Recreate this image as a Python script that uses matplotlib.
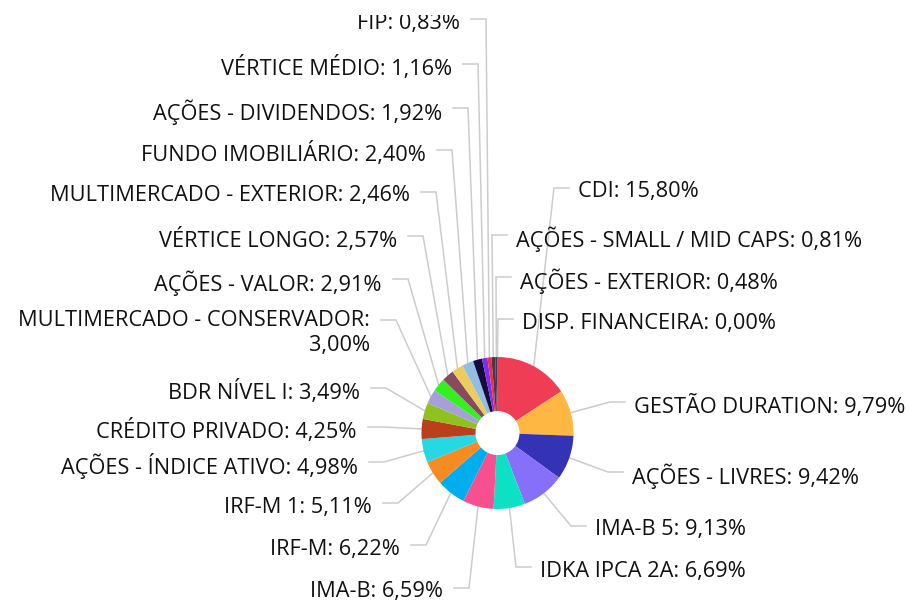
import numpy as np
import matplotlib
matplotlib.use("Agg")
import matplotlib.pyplot as plt
from matplotlib.transforms import Bbox, TransformedBbox

plt.rcParams['font.family'] = ['Open Sans', 'DejaVu Sans']

categories = [
    "CDI", "GESTÃO DURATION", "AÇÕES - LIVRES", "IMA-B 5", "IDKA IPCA 2A",
    "IMA-B", "IRF-M", "IRF-M 1", "AÇÕES - ÍNDICE ATIVO", "CRÉDITO PRIVADO",
    "BDR NÍVEL I", "MULTIMERCADO - CONSERVADOR", "AÇÕES - VALOR", "VÉRTICE LONGO",
    "MULTIMERCADO - EXTERIOR", "FUNDO IMOBILIÁRIO", "AÇÕES - DIVIDENDOS",
    "VÉRTICE MÉDIO", "FIP", "AÇÕES - SMALL / MID CAPS", "AÇÕES - EXTERIOR",
    "DISP. FINANCEIRA",
]
values = [15.80, 9.79, 9.42, 9.13, 6.69, 6.59, 6.22, 5.11, 4.98, 4.25,
          3.49, 3.00, 2.91, 2.57, 2.46, 2.40, 1.92, 1.16, 0.83, 0.81, 0.48, 0.00]
colors = [
    "#EF3D55", "#FEB743", "#3433B5", "#8670F9", "#0EE0C3",
    "#F8508F", "#00ADEF", "#F68A23", "#26D7E4", "#BA401C",
    "#8DC21F", "#A69FD9", "#34F020", "#874B5D", "#EBCD5E",
    "#93BEE3", "#160C3A", "#7C2CF5", "#F03040", "#4A3645",
    "#3A3A5A", "#777777",
]

# label layout in pixel coords: side, text x edge, text center y
label_pos = [
    ("R", 578, 190), ("R", 634, 404), ("R", 632, 474), ("R", 595, 528),
    ("R", 540, 569), ("L", 443, 590), ("L", 400, 547), ("L", 372, 505),
    ("L", 358, 464), ("L", 357, 429), ("L", 360, 390), ("L", 370, 322),
    ("L", 382, 281), ("L", 397, 238), ("L", 410, 194), ("L", 426, 152),
    ("L", 442, 110), ("L", 452, 66), ("L", 460, 21), ("R", 516, 237),
    ("R", 520, 279), ("R", 522, 321),
]

W, H = 909, 600
cx, cy = 497.5, 433
r_out, r_in = 76, 22
FS = 15.7


def Y(y):
    return H - y


def fmt(v):
    return f"{v:.2f}".replace(".", ",") + "%"


fig = plt.figure(figsize=(W / 100, H / 100), dpi=100)
ax = fig.add_axes([0, 0, 1, 1])

ax.pie(values, colors=colors, center=(cx, Y(cy)), radius=r_out,
       startangle=90, counterclock=False,
       wedgeprops=dict(width=r_out - r_in, linewidth=0), frame=True)
ax.set_xlim(0, W)
ax.set_ylim(0, H)
ax.set_aspect("equal")
ax.axis("off")

# the top label is cut by the chart area in the original
clip = TransformedBbox(Bbox([[0, -20], [W, H - 15]]), ax.transData)
line_col = "#CCCCCC"
total = sum(values)
cum = 0.0
for name, v, (side, tx, ty) in zip(categories, values, label_pos):
    mid = (cum + v / 2) / total
    cum += v
    ang = np.deg2rad(90 - 360 * mid)
    ex, ey = cx + r_out * np.cos(ang), Y(cy) + r_out * np.sin(ang)
    text = f"{name}: {fmt(v)}"
    ly = ty - 2
    if name == "MULTIMERCADO - CONSERVADOR":
        text = f"{name}:\n{fmt(v)}"
        ly = 320
    if side == "L":
        x0 = tx + 11
        xs = [x0, x0 + 15, ex]
        ha = "right"
    else:
        x0 = tx - 9
        xs = [x0, x0 - 15, ex]
        ha = "left"
    ax.plot(xs, [Y(ly), Y(ly), ey], color=line_col, lw=1.1,
            solid_joinstyle="miter", zorder=0)
    if "\n" in text:
        t = ax.text(tx, Y(ty - 12), text, ha=ha, va="top", fontsize=FS,
                    color="#111111", multialignment="right", linespacing=1.25)
    else:
        t = ax.text(tx, Y(ty + 2), text, ha=ha, va="center", fontsize=FS,
                    color="#111111")
    t.set_clip_box(clip)
    t.set_clip_on(True)

fig.savefig("out.png", dpi=100)
